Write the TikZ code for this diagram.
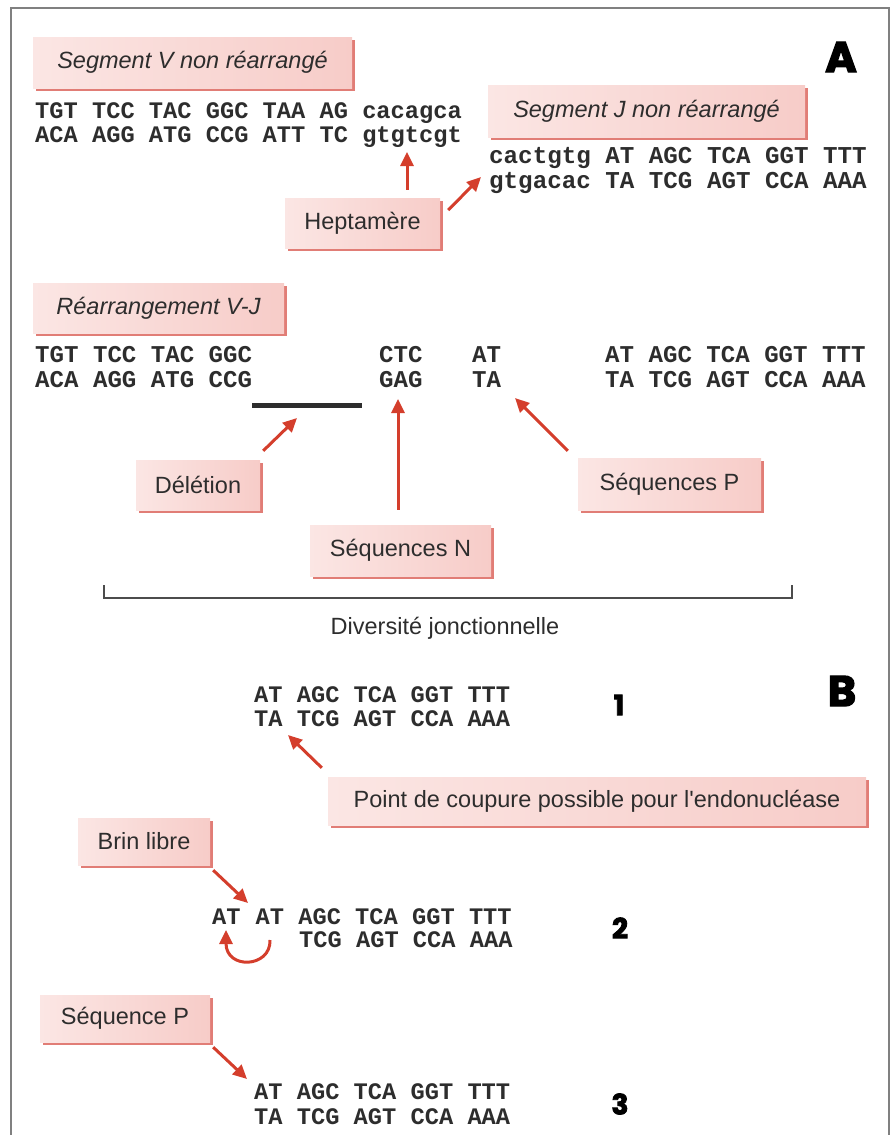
\documentclass[tikz,border=0pt]{standalone}
\usepackage{fontspec}
\setmainfont{Liberation Sans}[Ligatures=TeXOff]
\setmonofont{Liberation Mono}
\newfontfamily\heavyfont{Poppins}[FakeBold=3]
\usepackage{xcolor}
\usepackage{tikz}
\usetikzlibrary{
    calc,
    arrows.meta,
    shadows
}
\definecolor{tagleft}{RGB}{251,230,228}
\definecolor{tagright}{RGB}{247,204,200}
\definecolor{tagedge}{RGB}{225,125,118}
\definecolor{arrowred}{RGB}{212,62,44}
\definecolor{inkgray}{RGB}{45,45,45}
\definecolor{framegray}{RGB}{128,128,128}
\tikzset{
    tag/.style={left color=tagleft, right color=tagright, text=inkgray,
        font=\fontsize{23.5}{27}\selectfont, inner sep=0pt,
        drop shadow={shadow xshift=2.5pt, shadow yshift=-2.5pt, fill=tagedge, opacity=1}},
    headtag/.style={tag, font=\fontsize{23.5}{27}\selectfont\itshape},
    dna/.style={font=\ttfamily\bfseries\fontsize{#1}{#1}\selectfont, text=inkgray,
        inner sep=0pt, anchor=base west},
    dna/.default=23.7,
    heavy/.style={font=\heavyfont\bfseries\fontsize{#1}{#1}\selectfont, inner sep=0pt},
    redarrow/.style={draw=arrowred, line width=3pt, -{Triangle[length=14pt,width=13pt]}}
}

\begin{document}
\begin{tikzpicture}[x=1pt, y=-1pt]
        \useasboundingbox (0,0) rectangle (892,1135);
        \draw[framegray, line width=2pt] (11,1135) -- (11,8) -- (889,8) -- (889,1135);

        % A : segments non rearranges
        \draw (192.5,62.5) node[headtag, minimum width=319, minimum height=51](segV){Segment V non réarrangé};
        \draw (35,118) node[dna](vtop){TGT TCC TAC GGC TAA AG cacagca};
        \draw (35,142) node[dna](vbot){ACA AGG ATG CCG ATT TC gtgtcgt};
        \draw (841,57) node[heavy=43](lblA){A};

        \draw (646.5,111) node[headtag, minimum width=317, minimum height=52](segJ){Segment J non réarrangé};
        \draw (489,163) node[dna=24.2](jtop){cactgtg AT AGC TCA GGT TTT};
        \draw (489,188) node[dna=24.2](jbot){gtgacac TA TCG AGT CCA AAA};

        \draw (362.5,223) node[tag, minimum width=155, minimum height=50](hept){Heptamère};
        \coordinate (heptV) at (407,152);
        \coordinate (heptJ) at (481,177);
        \draw[redarrow, shorten <=8pt] (heptV |- hept.north) -- (heptV);
        \draw[redarrow] ([shift={(8,-13)}]hept.east) -- (heptJ);

        % rearrangement V-J
        \draw (158.5,308) node[headtag, minimum width=251, minimum height=50](rearr){Réarrangement V-J};
        \draw (35,362) node[dna=24.1](rvtop){TGT TCC TAC GGC};
        \draw (35,387) node[dna=24.1](rvbot){ACA AGG ATG CCG};
        \draw (379,362) node[dna=24.1](ntop){CTC};
        \draw (379,387) node[dna=24.1](nbot){GAG};
        \draw (472,362) node[dna=24.1](ptop){AT};
        \draw (472,387) node[dna=24.1](pbot){TA};
        \draw (605,362) node[dna=24.1](rjtop){AT AGC TCA GGT TTT};
        \draw (605,387) node[dna=24.1](rjbot){TA TCG AGT CCA AAA};
        \draw[inkgray, line width=5pt] (252,405) -- (362,405);

        \draw (198,485) node[tag, minimum width=124, minimum height=50](delet){Délétion};
        \draw (400.5,550.5) node[tag, minimum width=181, minimum height=51](seqN){Séquences N};
        \draw (669.5,484) node[tag, minimum width=183, minimum height=52](seqP){Séquences P};
        \coordinate (delTip) at (297,418);
        \coordinate (nTip) at (398,399);
        \coordinate (pTip) at (515,398);
        \draw[redarrow] ([shift={(3,-9)}]delet.north east) -- (delTip);
        \draw[redarrow, shorten <=15pt] (nTip |- seqN.north) -- (nTip);
        \draw[redarrow] ([shift={(-10,-7)}]seqP.north west) -- (pTip);

        \draw[inkgray!85, line width=1.8pt] (104,585) -- (104,598) -- (792,598) -- (792,585);
        \draw (445,628) node[text=inkgray, font=\fontsize{23.5}{27}\selectfont](divj){Diversité jonctionnelle};

        % B : sequences P
        \draw (842,691) node[heavy=43](lblB){B};
        \draw (254,702) node[dna](b1top){AT AGC TCA GGT TTT};
        \draw (254,726) node[dna](b1bot){TA TCG AGT CCA AAA};
        \draw (619,705) node[heavy=28](num1){1};
        \draw (597,801) node[tag, minimum width=538, minimum height=48](coup){Point de coupure possible pour l'endonucléase};
        \coordinate (cutTip) at (288,735);
        \draw[redarrow] ([shift={(-6,-9)}]coup.north west) -- (cutTip);

        \draw (144,841.5) node[tag, minimum width=132, minimum height=47](brin){Brin libre};
        \draw (212,924) node[dna](b2free){AT};
        \draw (255.5,924) node[dna](b2top){AT AGC TCA GGT TTT};
        \draw (299,947) node[dna](b2bot){TCG AGT CCA AAA};
        \draw (620,928) node[heavy=28](num2){2};
        \coordinate (brinTip) at (248,903);
        \draw[redarrow] ([shift={(3,5)}]brin.south east) -- (brinTip);
        \coordinate (loopA) at (270,940);
        \coordinate (loopB) at (226,930);
        \draw[redarrow] (loopA) .. controls (271,968) and (226,970) .. (loopB);

        \draw (125,1018.5) node[tag, minimum width=170, minimum height=47](seqPb){Séquence P};
        \draw (254,1099) node[dna](b3top){AT AGC TCA GGT TTT};
        \draw (254,1124) node[dna](b3bot){TA TCG AGT CCA AAA};
        \draw (620,1104) node[heavy=28](num3){3};
        \coordinate (seqTip) at (247,1079);
        \draw[redarrow] ([shift={(3,5)}]seqPb.south east) -- (seqTip);
    \end{tikzpicture}
\end{document}
